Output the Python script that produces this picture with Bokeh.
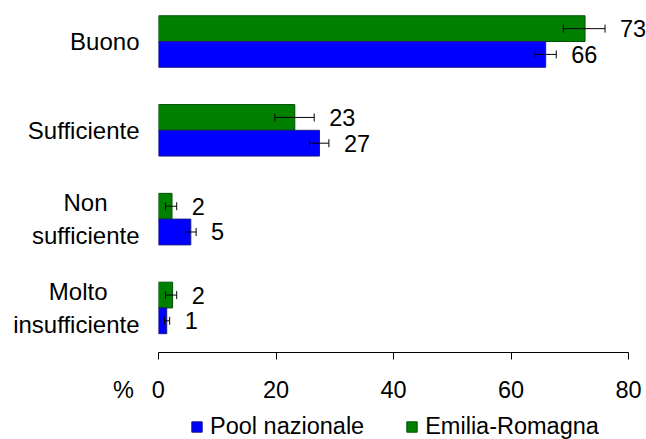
from bokeh.plotting import figure
from bokeh.models import (ColumnDataSource, Range1d, FixedTicker, Whisker, TeeHead,
                          Legend, LegendItem)
from bokeh.layouts import column
from bokeh.transform import dodge
from bokeh.embed import file_html
from bokeh.resources import INLINE
from bokeh.core.properties import value

# ---- data ----
categories = ["Buono", "Sufficiente", "Non\nsufficiente", "Molto\ninsufficiente"]
series_names = ["Pool nazionale", "Emilia-Romagna"]
series_colors = ["#0000FF", "#008000"]
pool_values = [65.9, 27.4, 5.5, 1.4]
pool_lower = [64.1, 25.7, 4.6, 1.0]
pool_upper = [67.7, 29.0, 6.4, 1.9]
pool_labels = ["66", "27", "5", "1"]
er_values = [72.6, 23.2, 2.3, 2.4]
er_lower = [68.9, 19.8, 1.2, 1.2]
er_upper = [76.0, 26.5, 3.1, 3.1]
er_labels = ["73", "23", "2", "2"]
x_ticks = [0, 20, 40, 60, 80]
unit_label = "%"

FONT = "Liberation Sans"
FS = "23.5px"
FS_CAT = "24px"
BAR_H = 0.29
OUTLINES = ["#1a1a8c", "#005000"]
LEFT = 158          # left border (room for category labels)
LEGEND_LEFT = 190   # page x of the legend's first swatch

ADV = {"N": 722, "o": 556, "n": 556, "s": 500, "u": 556, "f": 278, "i": 222, "c": 500,
       "e": 556, "t": 278, "M": 833, "l": 222, "B": 667, "S": 667, "%": 889, "0": 556}
SPACES = [("\u2003", 1.0), ("\u2002", 0.5), ("\u2004", 1 / 3), ("\u2005", 0.25), ("\u2006", 1 / 6)]


def em_width(s):
    return sum(ADV.get(ch, 556) for ch in s) / 1000.0


def em_pad(w):
    out = ""
    for ch, cw in SPACES:
        while w >= cw - 0.04:
            out += ch
            w -= cw
    return out


def centre_lines(label):
    lines = label.split("\n")
    wmax = max(em_width(l) for l in lines)
    return "\n".join(l + em_pad((wmax - em_width(l)) / 2) for l in lines)


n = len(categories)
ypos = [n - 1 - i for i in range(n)]

src_pool = ColumnDataSource(dict(y=ypos, x=pool_values, lo=pool_lower, hi=pool_upper, lab=pool_labels))
src_er = ColumnDataSource(dict(y=ypos, x=er_values, lo=er_lower, hi=er_upper, lab=er_labels))

y_lo, y_hi = -0.502, 3.462
p = figure(frame_width=488, frame_height=352, x_range=Range1d(0, 83.06), y_range=Range1d(y_lo, y_hi),
           output_backend="svg", toolbar_location=None,
           min_border_left=LEFT, min_border_right=0, min_border_top=0, min_border_bottom=0)
p.outline_line_color = None
p.grid.visible = False
p.background_fill_color = "white"
p.border_fill_color = "white"

off_pool = dodge("y", -BAR_H / 2, range=p.y_range)
off_er = dodge("y", BAR_H / 2, range=p.y_range)

p.hbar(y=off_er, left=0, right="x", height=BAR_H, source=src_er,
       fill_color=series_colors[1], line_color=OUTLINES[1], line_width=1)
p.hbar(y=off_pool, left=0, right="x", height=BAR_H, source=src_pool,
       fill_color=series_colors[0], line_color=OUTLINES[0], line_width=1)

for src, off in ((src_er, off_er), (src_pool, off_pool)):
    w = Whisker(source=src, base=off, lower="lo", upper="hi", dimension="width",
                line_color="black", line_width=1, level="annotation",
                upper_head=TeeHead(size=8, line_color="black", line_width=1),
                lower_head=TeeHead(size=8, line_color="black", line_width=1))
    p.add_layout(w)
    p.text(x="hi", y=off, text="lab", source=src, x_offset=15, text_baseline="middle",
           text_align="left", text_font=value(FONT), text_font_size=FS, text_color="black")

# x axis ("%" sits left of the 0 tick label; the label is padded symmetrically so 0 stays centred)
xa = p.xaxis[0]
xa.ticker = FixedTicker(ticks=x_ticks)
xa.bounds = (x_ticks[0], x_ticks[-1])
first = str(x_ticks[0])
prefix = unit_label + em_pad(0.75)
xa.major_label_overrides = {x_ticks[0]: prefix + first + em_pad(em_width(unit_label) + 0.75)}
xa.major_tick_out = 7
xa.major_tick_in = 0
xa.minor_tick_line_color = None
xa.axis_line_color = "black"
xa.major_tick_line_color = "black"
xa.major_label_text_font = FONT
xa.major_label_text_font_size = FS
xa.major_label_text_color = "black"
xa.major_label_standoff = 17

# y axis
ya = p.yaxis[0]
ya.ticker = FixedTicker(ticks=ypos)
ya.major_label_overrides = {y: centre_lines(c) for y, c in zip(ypos, categories)}
ya.axis_line_color = None
ya.major_tick_line_color = None
ya.minor_tick_line_color = None
ya.major_label_text_font = FONT
ya.major_label_text_font_size = FS_CAT
ya.major_label_text_color = "black"
ya.major_label_standoff = 13

# legend strip below the chart (its frame is aligned with the chart frame by the column)
lg = figure(width=646, height=35, x_range=Range1d(0, 1), y_range=Range1d(0, 1),
            output_backend="svg", toolbar_location=None, x_axis_location=None, y_axis_location=None,
            min_border_left=0, min_border_right=0, min_border_top=0, min_border_bottom=0)
lg.outline_line_color = None
lg.grid.visible = False
lg.border_fill_color = "white"
items = []
for name, col, oc in zip(series_names, series_colors, OUTLINES):
    # proxy renderer lying outside the visible range: only its legend swatch shows
    r = lg.hbar(y=[-5], right=[1], left=0, height=0.5, fill_color=col, line_color=oc, line_width=1)
    items.append(LegendItem(label=name, renderers=[r]))
legend = Legend(items=items, orientation="horizontal", location=(LEGEND_LEFT - LEFT, 0),
                glyph_width=13, glyph_height=13, label_standoff=7, spacing=41,
                padding=0, margin=0, border_line_color=None, background_fill_alpha=0,
                label_text_font=FONT, label_text_font_size=FS, label_text_color="black")
lg.add_layout(legend)

layout = column(p, lg, spacing=0)
open("out.html", "w").write(file_html(layout, INLINE))
